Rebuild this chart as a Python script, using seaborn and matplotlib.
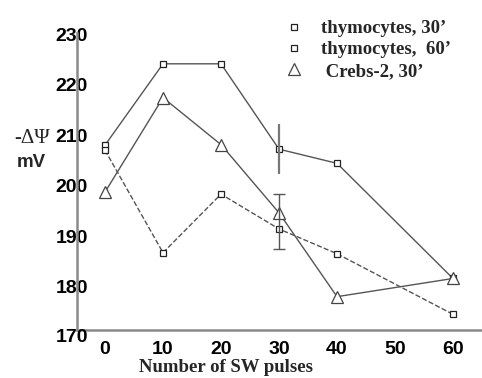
import matplotlib
matplotlib.use("Agg")
import matplotlib.pyplot as plt
import seaborn as sns
import pandas as pd
from matplotlib.lines import Line2D

pulses = [0, 10, 20, 30, 40, 60]
thym30 = [208.0, 224.1, 224.1, 207.2, 204.4, 181.6]
thym60 = [207.0, 186.7, 198.3, 191.4, 186.5, 174.5]
crebs30 = [198.7, 217.4, 208.1, 194.6, 178.0, 181.6]
err_x = 30
thym30_err = (5.0, 4.9)      # lower, upper
thym60_err = (3.9, 6.9)      # lower, upper
xticks = [0, 10, 20, 30, 40, 50, 60]
yticks = [180, 190, 200, 210, 220, 230]
labels = ["thymocytes, 30\u2019", "thymocytes,  60\u2019", " Crebs-2, 30\u2019"]

sns.set_style("white")
plt.rcParams['font.family'] = ['Liberation Sans', 'DejaVu Sans']

fig = plt.figure(figsize=(4.82, 3.78), dpi=100)
ax = fig.add_axes([77/482, 1-330/378, 1-77/482, (330-33)/378])

df = pd.DataFrame({"x": pulses, "t30": thym30, "t60": thym60, "c30": crebs30})
lc = "#555555"
sns.lineplot(data=df, x="x", y="t30", ax=ax, color=lc, lw=1, marker="s", ms=5,
             mfc="white", mec="#222222", mew=0.9)
sns.lineplot(data=df, x="x", y="t60", ax=ax, color=lc, lw=1, ls="--", marker="s", ms=5,
             mfc="white", mec="#222222", mew=0.9)
sns.lineplot(data=df, x="x", y="c30", ax=ax, color=lc, lw=1, marker="^", ms=9,
             mfc="white", mec="#444444", mew=0.9)

i = pulses.index(err_x)
ax.errorbar([err_x], [thym30[i]], yerr=[[thym30_err[0]], [thym30_err[1]]], fmt="none",
            ecolor="#777777", elinewidth=1.6, capsize=0)
ax.errorbar([err_x], [thym60[i]], yerr=[[thym60_err[0]], [thym60_err[1]]], fmt="none",
            ecolor="#555555", elinewidth=1.0, capsize=4, capthick=1.0)

ax.set_xlim(-4.83, 65)
ax.set_ylim(171.4, 230.2)
ax.set_xticks(xticks)
ax.set_yticks(yticks)
ax.tick_params(axis="both", length=0, labelsize=14, labelcolor="black")
ax.tick_params(axis="y", pad=-8)
ax.tick_params(axis="x", pad=8)
for t in ax.get_xticklabels() + ax.get_yticklabels():
    t.set_fontweight("bold")
ax.text(-4.83 + 1.9, 170.0, "170", fontsize=14, fontweight="bold", ha="right", va="center",
        clip_on=False, color="black")

for s in ["top", "right"]:
    ax.spines[s].set_visible(False)
for s in ["left", "bottom"]:
    ax.spines[s].set_color("#8a8a8a")
    ax.spines[s].set_linewidth(1.8)

ax.set_xlabel("Number of SW pulses", fontsize=13.5, fontweight="bold",
              family=["Liberation Serif"])
ax.xaxis.set_label_coords((226-77)/(482-77), -(367-330)/297)
ax.xaxis.label.set_va("center")
ax.set_ylabel("")

fig.text(14/482, 1-139/378, "-\u0394\u03a8", fontsize=15, family=["Liberation Serif"],
         va="center", ha="left")
fig.text(17/482, 1-163/378, "mV", fontsize=13.5, fontweight="bold", va="center", ha="left")

handles = [
    Line2D([], [], ls="none", marker="s", ms=5, mfc="white", mec="#222222", mew=0.9),
    Line2D([], [], ls="none", marker="s", ms=5, mfc="white", mec="#222222", mew=0.9),
    Line2D([], [], ls="none", marker="^", ms=9, mfc="white", mec="#444444", mew=0.9),
]
ax.legend(handles, labels, loc="upper left", bbox_to_anchor=(270/482, 1-7/378),
          bbox_transform=fig.transFigure, frameon=False,
          prop={"family": "Liberation Serif", "weight": "bold", "size": 13.5},
          labelspacing=0.22, handletextpad=0.8, handlelength=1.2, borderaxespad=0.3)

fig.savefig("out.png", dpi=100, facecolor="white")
